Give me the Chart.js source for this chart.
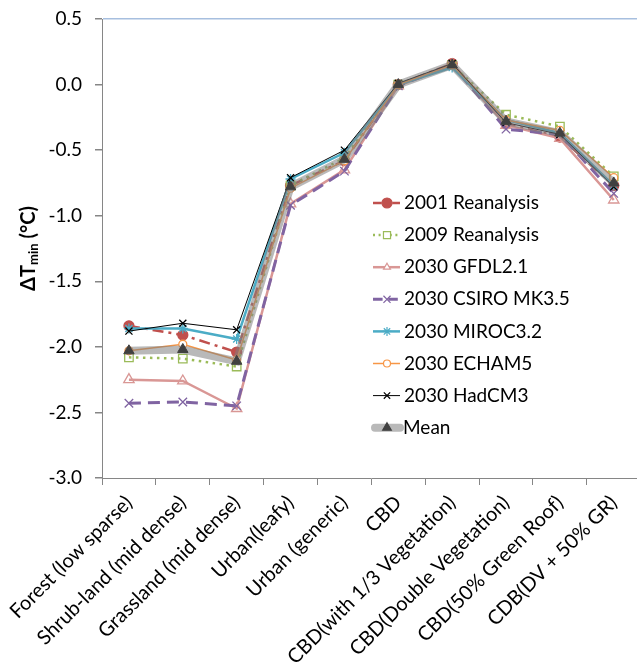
<!DOCTYPE html>
<html>
<head>
<meta charset="utf-8">
<script src="https://cdn.jsdelivr.net/npm/chart.js@4.4.1/dist/chart.umd.min.js"></script>
<style>
  html, body { margin: 0; padding: 0; background: #fff; overflow: hidden; }
  #wrap { width: 637px; height: 663px; overflow: hidden; }
  canvas { display: block; }
</style>
</head>
<body>
<div id="wrap"><canvas id="chart" width="648" height="663"></canvas></div>
<script>
// ── Data ──────────────────────────────────────────────────
const categories = [
  "Forest (low sparse)", "Shrub-land (mid dense)", "Grassland (mid dense)",
  "Urban(leafy)", "Urban (generic)", "CBD", "CBD(with 1/3 Vegetation)",
  "CBD(Double Vegetation)", "CBD(50% Green Roof)", "CDB(DV + 50% GR)"
];
const seriesNames = [
  "2001 Reanalysis", "2009 Reanalysis", "2030 GFDL2.1", "2030 CSIRO MK3.5",
  "2030 MIROC3.2", "2030 ECHAM5", "2030 HadCM3", "Mean"
];
const reanalysis2001 = [-1.84, -1.91, -2.04, -0.77, -0.58, 0.00, 0.16, -0.30, -0.40, -0.77];
const reanalysis2009 = [-2.08, -2.09, -2.15, -0.77, -0.56, 0.00, 0.15, -0.23, -0.32, -0.70];
const gfdl21 = [-2.25, -2.26, -2.47, -0.91, -0.65, -0.01, 0.15, -0.31, -0.41, -0.88];
const csiroMk35 = [-2.43, -2.42, -2.45, -0.92, -0.66, -0.01, 0.15, -0.34, -0.38, -0.83];
const miroc32 = [-1.86, -1.86, -1.94, -0.72, -0.52, 0.00, 0.13, -0.27, -0.37, -0.77];
const echam5 = [-2.03, -1.98, -2.10, -0.79, -0.58, 0.00, 0.15, -0.27, -0.35, -0.71];
const hadcm3 = [-1.88, -1.82, -1.87, -0.71, -0.50, 0.01, 0.16, -0.29, -0.38, -0.78];
const meanSeries = [-2.03, -2.02, -2.11, -0.78, -0.57, 0.00, 0.15, -0.28, -0.37, -0.75];
const yTicks = [0.5, 0.0, -0.5, -1.0, -1.5, -2.0, -2.5, -3.0];

// ── Styles ────────────────────────────────────────────────
const FONT = "Lato, 'Open Sans', sans-serif";
const AXIS = "#868686";
const CLEAR = "rgba(255,255,255,0)";

const styles = [
  { data: reanalysis2001, color: "#c0504d", width: 2.5, dash: [11, 5, 3, 5], point: "circle", r: 5, fill: "#c0504d", lr: 5 },
  { data: reanalysis2009, color: "#9bbb59", width: 2.5, dash: [2.5, 4.5], point: "rect", r: 6, fill: CLEAR, lr: 5 },
  { data: gfdl21, color: "#d99795", width: 2.5, dash: [], point: "triangle", r: 6, fill: CLEAR, lr: 4 },
  { data: csiroMk35, color: "#8064a2", width: 3, dash: [12, 7], point: "crossRot", r: 6, fill: "#8064a2", lr: 5 },
  { data: miroc32, color: "#4bacc6", width: 2.5, dash: [], point: "star", r: 5, fill: "#4bacc6", lr: 4.5 },
  { data: echam5, color: "#f79646", width: 1.5, dash: [], point: "circle", r: 4, fill: "#ffffff", lr: 3.5 },
  { data: hadcm3, color: "#000000", width: 1, dash: [], point: "crossRot", r: 5, fill: "#000000", lr: 4.5 },
  { data: meanSeries, color: "rgba(128,128,128,0.55)", width: 8, dash: [], point: "triangle", r: 6, fill: "#404040", pointColor: "#404040", lr: 5 }
];

// Excel order: first series at the back, Mean on top
const datasets = styles.map((s, i) => ({
  label: seriesNames[i],
  data: s.data,
  borderColor: s.color,
  backgroundColor: s.fill,
  borderWidth: s.width,
  borderDash: s.dash,
  borderCapStyle: i === 7 ? "round" : "butt",
  pointStyle: s.point,
  pointRadius: s.r,
  pointHoverRadius: s.r,
  pointBorderColor: s.pointColor || s.color,
  pointBackgroundColor: s.fill,
  pointBorderWidth: i === 7 ? 1 : 1.3,
  tension: 0,
  fill: false,
  order: 10 - i
}));

// ── Plugins: legend inside plot + axis title with subscript ──
const legendBox = {
  id: "legendBox",
  afterDraw(chart) {
    const ctx = chart.ctx;
    ctx.save();
    styles.forEach((s, i) => {
      const y = 203 + i * 32.1;
      ctx.setLineDash(s.dash.map((d) => d * 0.8));
      ctx.strokeStyle = s.color;
      ctx.lineWidth = s.width;
      ctx.lineCap = i === 7 ? "round" : "butt";
      ctx.beginPath();
      ctx.moveTo(i === 7 ? 375 : 373, y);
      ctx.lineTo(400, y);
      ctx.stroke();
      ctx.setLineDash([]);
      ctx.fillStyle = s.fill === CLEAR ? "#ffffff" : s.fill;
      ctx.strokeStyle = s.pointColor || s.color;
      ctx.lineWidth = 1.2;
      Chart.helpers.drawPoint(ctx, { pointStyle: s.point, radius: s.lr, rotation: 0, borderWidth: 1.2 }, 387, y);
      ctx.fillStyle = "#000";
      ctx.font = "19px " + FONT;
      ctx.textAlign = "left";
      ctx.textBaseline = "middle";
      ctx.fillText(seriesNames[i], i === 7 ? 403 : 404, y);
    });
    ctx.restore();
  }
};

const yTitle = {
  id: "yTitle",
  afterDraw(chart) {
    const ctx = chart.ctx;
    const { top, bottom } = chart.chartArea;
    ctx.save();
    ctx.translate(29, (top + bottom) / 2);
    ctx.rotate(-Math.PI / 2);
    ctx.fillStyle = "#000";
    ctx.textBaseline = "middle";
    ctx.textAlign = "left";
    const big = "bold 20px " + FONT, small = "bold 13px " + FONT;
    const parts = [["ΔT", big, 0], ["min", small, 5], [" (°C)", big, 0]];
    let total = 0;
    parts.forEach((p) => { ctx.font = p[1]; total += ctx.measureText(p[0]).width; });
    let x = -total / 2;
    parts.forEach((p) => {
      ctx.font = p[1];
      ctx.fillText(p[0], x, p[2]);
      x += ctx.measureText(p[0]).width;
    });
    ctx.restore();
  }
};

// ── Chart ─────────────────────────────────────────────────
new Chart(document.getElementById("chart"), {
  type: "line",
  data: { labels: categories, datasets },
  plugins: [legendBox, yTitle],
  options: {
    responsive: false,
    animation: false,
    layout: { padding: { top: 19, right: 2, left: 0, bottom: 0 } },
    plugins: { legend: { display: false }, tooltip: { enabled: false } },
    scales: {
      x: {
        type: "category",
        offset: true,
        border: { color: AXIS, width: 1 },
        grid: { offset: true, drawOnChartArea: false, drawTicks: true, tickLength: 7, tickColor: AXIS },
        ticks: {
          autoSkip: false, minRotation: 45, maxRotation: 45, padding: 6,
          color: "#000", font: { family: FONT, size: 20 }
        },
        afterFit(scale) { scale.height = 185; scale.paddingLeft = 0; scale.paddingRight = 0; }
      },
      y: {
        min: -3, max: 0.5,
        border: { color: AXIS, width: 1 },
        grid: {
          drawTicks: true, tickLength: 7, tickColor: AXIS,
          color: (c) => (c.tick && c.tick.value === 0.5 ? "#a7bfdf" : "rgba(0,0,0,0)"),
          lineWidth: 1.5
        },
        afterBuildTicks(scale) { scale.ticks = yTicks.map((v) => ({ value: v })); },
        ticks: {
          padding: 13, color: "#000", font: { family: FONT, size: 19 },
          callback: (v) => Number(v).toFixed(1)
        },
        afterFit(scale) { scale.width = 102; scale.paddingTop = 0; scale.paddingBottom = 0; }
      }
    }
  }
});
</script>
</body>
</html>
